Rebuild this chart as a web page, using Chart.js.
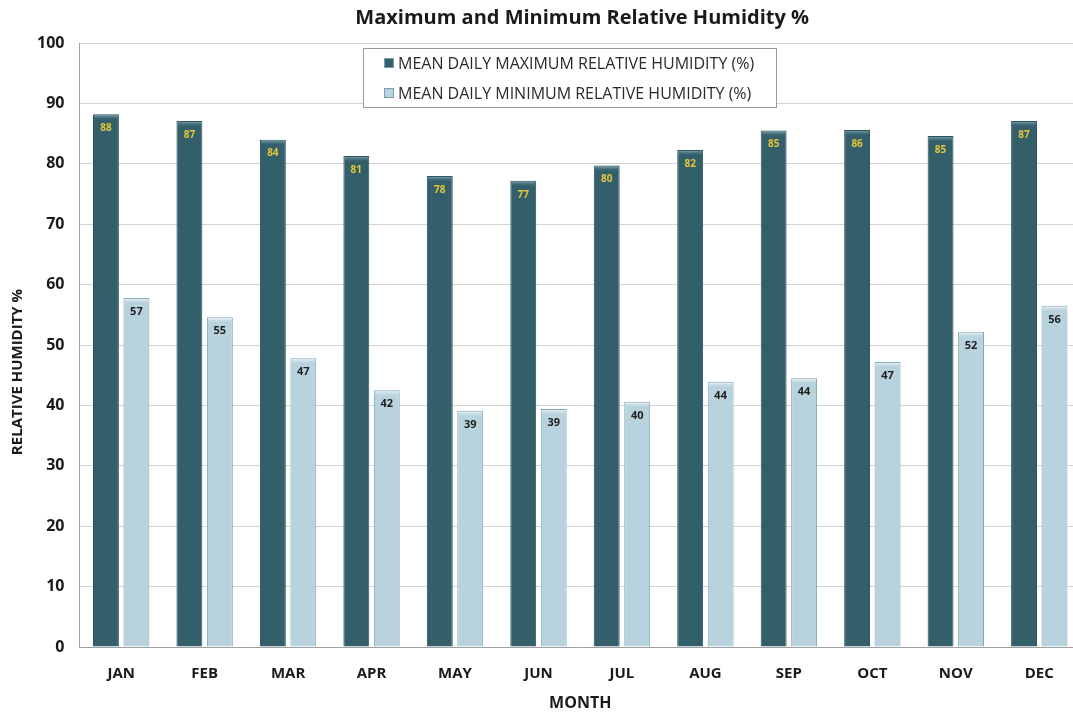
<!DOCTYPE html>
<html>
<head>
<meta charset="utf-8">
<script src="https://cdn.jsdelivr.net/npm/chart.js@4"></script>
<style>
  html, body { margin: 0; padding: 0; background: #fff; overflow: hidden; }
  #wrap { width: 1090px; height: 713px; }
</style>
</head>
<body>
<div id="wrap"><canvas id="humidity"></canvas></div>
<script>
const months = ["JAN", "FEB", "MAR", "APR", "MAY", "JUN", "JUL", "AUG", "SEP", "OCT", "NOV", "DEC"];
const maxHumidity = [88.2, 87.1, 84.0, 81.3, 78.0, 77.2, 79.7, 82.3, 85.5, 85.6, 84.6, 87.1];
const minHumidity = [57.8, 54.6, 47.8, 42.5, 39.1, 39.4, 40.6, 43.9, 44.5, 47.2, 52.2, 56.5];
const maxLabels = [88, 87, 84, 81, 78, 77, 80, 82, 85, 86, 85, 87];
const minLabels = [57, 55, 47, 42, 39, 39, 40, 44, 44, 47, 52, 56];
const legendNames = ["MEAN DAILY MAXIMUM RELATIVE HUMIDITY (%)", "MEAN DAILY MINIMUM RELATIVE HUMIDITY (%)"];
const chartTitle = "Maximum and Minimum Relative Humidity %";
const yTitle = "RELATIVE HUMIDITY %";

const darkBar = "#335f6b";
const lightBar = "#b9d3de";

// value labels + small highlight cap on each bar
const barLabels = {
    id: "barLabels",
    afterDatasetsDraw(chart) {
        const ctx = chart.ctx;
        ctx.save();
        ctx.textAlign = "center";
        ctx.textBaseline = "middle";
        chart.data.datasets.forEach((ds, i) => {
            const meta = chart.getDatasetMeta(i);
            const labels = i === 0 ? maxLabels : minLabels;
            meta.data.forEach((bar, j) => {
                const left = bar.x - bar.width / 2;
                const g = ctx.createLinearGradient(0, bar.y, 0, bar.y + 6);
                if (i === 0) {
                    g.addColorStop(0, "rgba(150,190,200,0.9)");
                    g.addColorStop(1, "rgba(51,95,107,0)");
                } else {
                    g.addColorStop(0, "rgba(255,255,255,0.95)");
                    g.addColorStop(1, "rgba(185,211,222,0)");
                }
                ctx.fillStyle = g;
                ctx.fillRect(left + 1, bar.y + 1, bar.width - 2, 6);

                if (i === 0) {
                    ctx.fillStyle = "#e3c63a";
                    ctx.font = "bold 10px 'Open Sans'";
                } else {
                    ctx.fillStyle = "#1e1e1e";
                    ctx.font = "bold 11px 'Open Sans'";
                }
                ctx.fillText(labels[j], bar.x, bar.y + 14);
            });
        });
        ctx.restore();
    }
};

// title, y-axis title and boxed two-row legend
const decorations = {
    id: "decorations",
    afterDraw(chart) {
        const ctx = chart.ctx;
        const area = chart.chartArea;
        ctx.save();
        ctx.fillStyle = "#1a1a1a";
        ctx.textAlign = "center";
        ctx.textBaseline = "middle";
        ctx.font = "bold 20px 'Open Sans'";
        ctx.fillText(chartTitle, (area.left + area.right) / 2 + 2, 18);

        ctx.save();
        ctx.translate(18, 372);
        ctx.rotate(-Math.PI / 2);
        ctx.font = "bold 15px 'Open Sans'";
        ctx.fillText(yTitle, 0, 0);
        ctx.restore();

        const x0 = 363, y0 = 48, w = 413, h = 59;
        ctx.fillStyle = "#fff";
        ctx.fillRect(x0, y0, w, h);
        ctx.strokeStyle = "#9a9a9a";
        ctx.lineWidth = 1;
        ctx.strokeRect(x0 + 0.5, y0 + 0.5, w, h);
        ctx.font = "16px 'Open Sans'";
        ctx.textAlign = "left";
        const colors = [darkBar, lightBar];
        legendNames.forEach((name, i) => {
            const cy = y0 + 15 + i * 30;
            ctx.fillStyle = colors[i];
            ctx.fillRect(x0 + 21, cy - 5, 10, 10);
            ctx.strokeStyle = "#7a9ea9";
            ctx.strokeRect(x0 + 21.5, cy - 4.5, 9, 9);
            ctx.fillStyle = "#2a2a2a";
            ctx.fillText(name, x0 + 35, cy + 1);
        });
        ctx.restore();
    }
};

new Chart(document.querySelector("#humidity"), {
    type: "bar",
    data: {
        labels: months,
        datasets: [{
            label: legendNames[0],
            data: maxHumidity,
            backgroundColor: darkBar,
            borderColor: "#2a4f59",
            borderWidth: 1,
            barPercentage: 0.85,
            categoryPercentage: 0.73
        }, {
            label: legendNames[1],
            data: minHumidity,
            backgroundColor: lightBar,
            borderColor: "#7fa5b3",
            borderWidth: 1,
            barPercentage: 0.85,
            categoryPercentage: 0.73
        }]
    },
    options: {
        responsive: true,
        maintainAspectRatio: false,
        animation: false,
        layout: { padding: { top: 43, right: 9, left: 22, bottom: 0 } },
        plugins: {
            legend: { display: false },
            tooltip: { enabled: false },
            title: { display: false }
        },
        scales: {
            x: {
                grid: { display: false, drawTicks: false },
                border: { color: "#a0a0a0" },
                ticks: {
                    color: "#1a1a1a",
                    font: { family: "Open Sans", size: 15, weight: "bold", lineHeight: 1 },
                    padding: 19
                },
                title: {
                    display: true,
                    text: "MONTH",
                    color: "#1a1a1a",
                    font: { family: "Open Sans", size: 16, weight: "bold", lineHeight: 1 },
                    padding: { top: -5, bottom: 2 }
                }
            },
            y: {
                min: 0,
                max: 100,
                ticks: {
                    stepSize: 10,
                    color: "#1a1a1a",
                    font: { family: "Open Sans", size: 16, weight: "bold" },
                    padding: 15
                },
                grid: { color: "#d4d4d4", drawTicks: false },
                border: { color: "#a0a0a0" }
            }
        }
    },
    plugins: [barLabels, decorations]
});
</script>
</body>
</html>
